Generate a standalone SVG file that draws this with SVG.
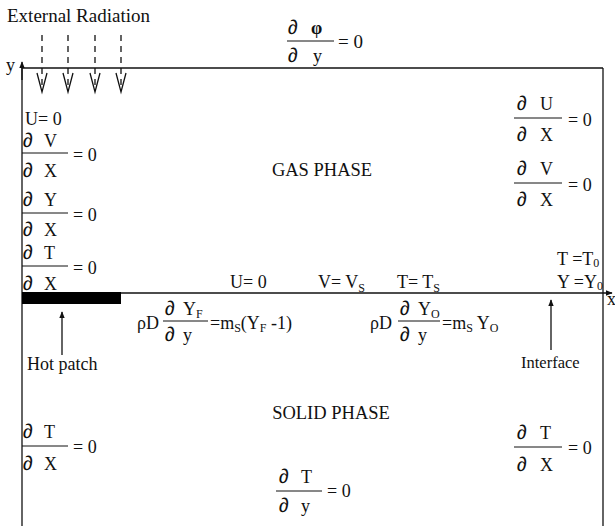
<svg xmlns="http://www.w3.org/2000/svg" width="615" height="526" viewBox="0 0 615 526">
<defs>
<marker id="ahs" viewBox="0 0 10 10" refX="9" refY="5" markerWidth="7" markerHeight="7" orient="auto" markerUnits="userSpaceOnUse">
<path d="M0,1 L10,5 L0,9 Z" fill="#111"/>
</marker>
</defs>
<style>
text{font-family:"Liberation Serif","Times New Roman",serif;font-size:18px;fill:#111}
.d{font-size:20px;font-family:"DejaVu Sans","Liberation Sans",sans-serif;font-weight:200}
.s{font-size:12px}
.ln{stroke:#111;stroke-width:1.3;fill:none}
.fr{stroke:#111;stroke-width:1;fill:none}
.dash{stroke:#111;stroke-width:1.3;stroke-dasharray:6,5;fill:none}
</style>
<rect width="615" height="526" fill="#fff"/>

<g id="frame">
<line class="ln" x1="22" y1="68" x2="603" y2="68"/>
<line class="ln" x1="603" y1="68" x2="603" y2="526"/>
<line class="ln" x1="22" y1="66" x2="22" y2="526"/>
<rect id="hot-patch-bar" x="22" y="292" width="99" height="12" fill="#000"/>
</g>

<g id="connectors">
<line class="ln" x1="22" y1="80" x2="22" y2="62" marker-end="url(#ahs)"/>
<line class="ln" x1="121" y1="293" x2="612" y2="293" marker-end="url(#ahs)"/>
<line class="dash" x1="42" y1="35" x2="42" y2="90"/>
<line class="dash" x1="68" y1="35" x2="68" y2="90"/>
<line class="dash" x1="95" y1="35" x2="95" y2="90"/>
<line class="dash" x1="121" y1="35" x2="121" y2="90"/>
<path class="ln" d="M37,73 L42,92 L47,73 M63,73 L68,92 L73,73 M90,73 L95,92 L100,73 M116,73 L121,92 L126,73"/>
<line class="ln" x1="62" y1="355" x2="62" y2="312" marker-end="url(#ahs)"/>
<line class="ln" x1="551" y1="350" x2="551" y2="300" marker-end="url(#ahs)"/>
</g>

<g id="label-external-radiation"><text x="7" y="22" style="font-size:19px">External Radiation</text></g>
<g id="label-y"><text x="6" y="71">y</text></g>
<g id="label-x"><text x="607" y="305">x</text></g>

<g id="eq-top">
<text class="d" x="288" y="34">∂</text><text x="311" y="34" font-weight="bold">φ</text>
<line class="fr" x1="287" y1="41" x2="334" y2="41"/>
<text class="d" x="288" y="62">∂</text><text x="313" y="62">y</text>
<text x="338" y="48" style="font-size:19px">= 0</text>
</g>

<g id="label-gas-phase"><text x="322" y="176" text-anchor="middle" style="font-size:18.5px">GAS PHASE</text></g>
<g id="label-solid-phase"><text x="331" y="419" text-anchor="middle" style="font-size:18.5px">SOLID PHASE</text></g>

<g id="eq-left-gas">
<text x="25" y="125">U=  0</text>
<text class="d" x="23" y="147">∂</text><text x="44" y="147">V</text>
<line class="fr" x1="22" y1="153" x2="68" y2="153"/>
<text class="d" x="23" y="177">∂</text><text x="44" y="177">X</text>
<text x="73" y="161">= 0</text>
<text class="d" x="23" y="206">∂</text><text x="44" y="206">Y</text>
<line class="fr" x1="22" y1="213" x2="68" y2="213"/>
<text class="d" x="23" y="236">∂</text><text x="44" y="236">X</text>
<text x="73" y="221">= 0</text>
<text class="d" x="23" y="259">∂</text><text x="44" y="259">T</text>
<line class="fr" x1="22" y1="266" x2="68" y2="266"/>
<text class="d" x="23" y="290">∂</text><text x="44" y="290">X</text>
<text x="73" y="274">= 0</text>
</g>

<g id="eq-right-gas">
<text class="d" x="517" y="110">∂</text><text x="540" y="110">U</text>
<line class="fr" x1="514" y1="118" x2="562" y2="118"/>
<text class="d" x="517" y="141">∂</text><text x="540" y="141">X</text>
<text x="568" y="126">= 0</text>
<text class="d" x="517" y="175">∂</text><text x="540" y="175">V</text>
<line class="fr" x1="514" y1="183" x2="562" y2="183"/>
<text class="d" x="517" y="206">∂</text><text x="540" y="206">X</text>
<text x="568" y="191">= 0</text>
<text x="557" y="265">T =T<tspan class="s" dy="2">0</tspan></text>
<text x="557" y="288">Y =Y<tspan class="s" dy="2">0</tspan></text>
</g>

<g id="eq-interface-top">
<text x="230" y="288">U= 0</text>
<text x="318" y="288">V= V<tspan class="s" dy="4">S</tspan></text>
<text x="397" y="288">T= T<tspan class="s" dy="4">S</tspan></text>
</g>

<g id="eq-fuel">
<text x="137" y="329">ρD</text>
<text class="d" x="165" y="315">∂</text><text x="183" y="315">Y<tspan class="s" dy="3">F</tspan></text>
<line class="fr" x1="163" y1="321" x2="208" y2="321"/>
<text class="d" x="165" y="341">∂</text><text x="183" y="341">y</text>
<text x="210" y="329">=m<tspan class="s" dy="3">S</tspan><tspan dy="-3">(Y</tspan><tspan class="s" dy="3">F</tspan><tspan dy="-3"> -1)</tspan></text>
</g>

<g id="eq-oxidizer">
<text x="370" y="329">ρD</text>
<text class="d" x="400" y="315">∂</text><text x="418" y="315">Y<tspan class="s" dy="3">O</tspan></text>
<line class="fr" x1="398" y1="321" x2="440" y2="321"/>
<text class="d" x="400" y="341">∂</text><text x="418" y="341">y</text>
<text x="442" y="329">=m<tspan class="s" dy="3">S</tspan><tspan dy="-3"> Y</tspan><tspan class="s" dy="3">O</tspan></text>
</g>

<g id="label-hot-patch"><text x="27" y="370">Hot patch</text></g>
<g id="label-interface"><text x="521" y="368" style="font-size:16.5px">Interface</text></g>

<g id="eq-left-solid">
<text class="d" x="23" y="438">∂</text><text x="44" y="438">T</text>
<line class="fr" x1="22" y1="446" x2="68" y2="446"/>
<text class="d" x="23" y="470">∂</text><text x="44" y="470">X</text>
<text x="73" y="453">= 0</text>
</g>

<g id="eq-right-solid">
<text class="d" x="517" y="439">∂</text><text x="540" y="439">T</text>
<line class="fr" x1="514" y1="447" x2="562" y2="447"/>
<text class="d" x="517" y="471">∂</text><text x="540" y="471">X</text>
<text x="568" y="454">= 0</text>
</g>

<g id="eq-bottom">
<text class="d" x="279" y="483">∂</text><text x="301" y="483">T</text>
<line class="fr" x1="276" y1="491" x2="322" y2="491"/>
<text class="d" x="279" y="512">∂</text><text x="301" y="512">y</text>
<text x="327" y="497">= 0</text>
</g>
</svg>
